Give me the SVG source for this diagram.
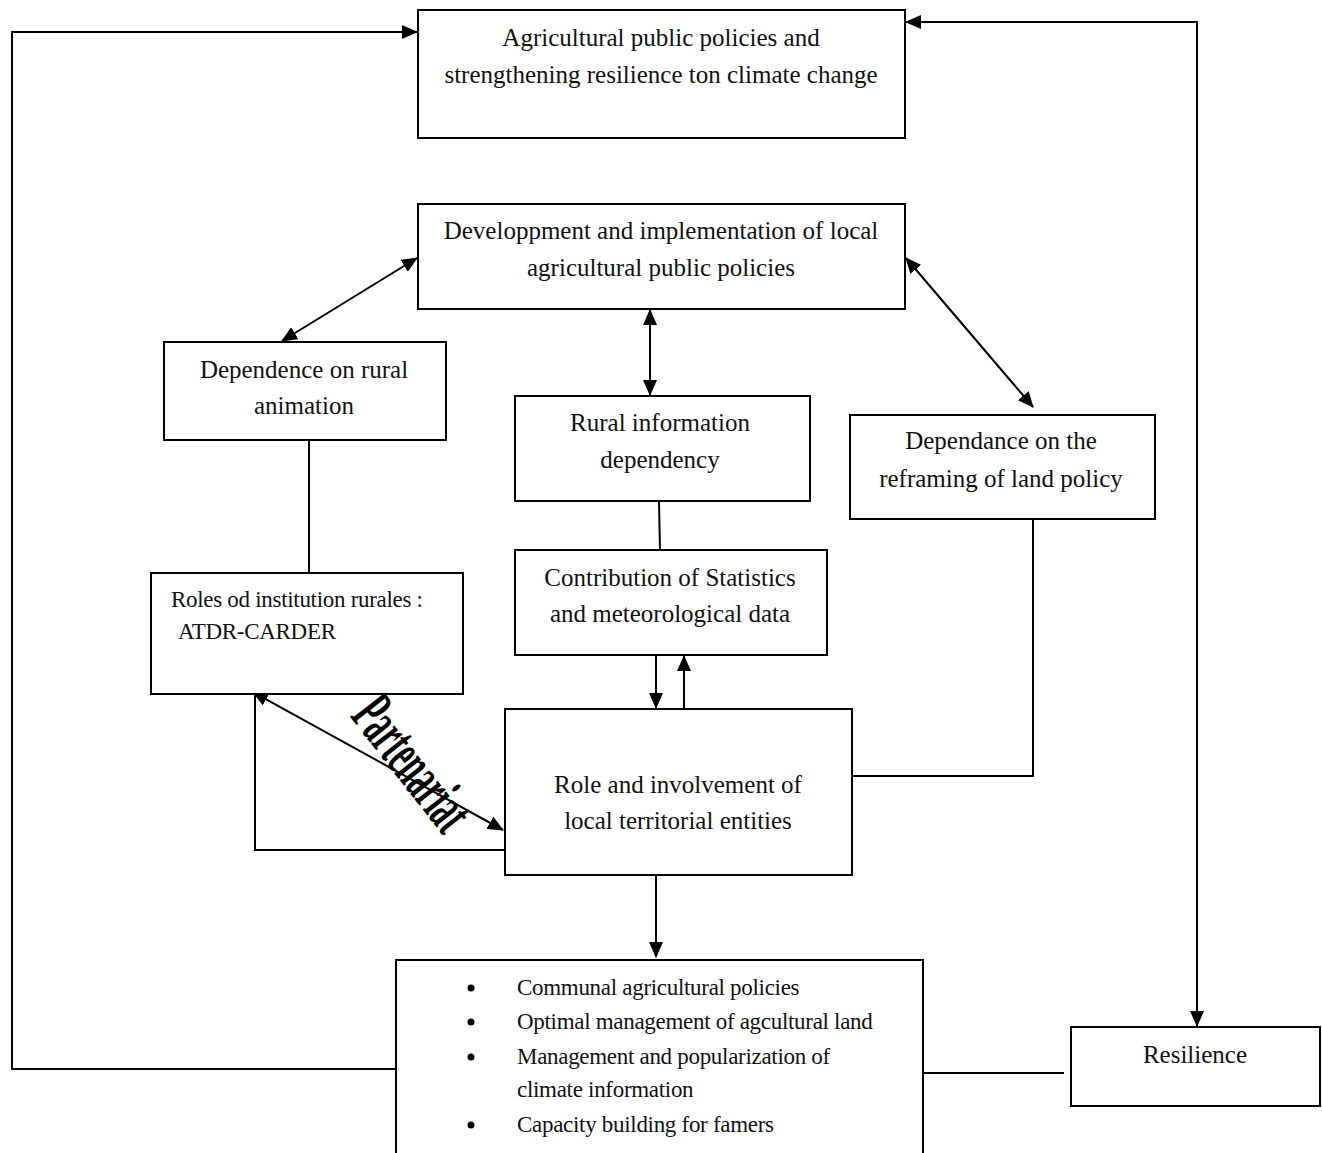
<svg xmlns="http://www.w3.org/2000/svg" width="1322" height="1153" viewBox="0 0 1322 1153">
<style>
.box{fill:#fff;stroke:#000;stroke-width:2}
.t{font-family:"Liberation Serif","Times New Roman",serif;font-size:25px;fill:#111;text-anchor:middle}
.b{font-family:"Liberation Serif","Times New Roman",serif;font-size:23px;fill:#111;letter-spacing:-0.3px}
.c{fill:none;stroke:#000;stroke-width:2}
.a{marker-end:url(#ah)}
.aa{marker-start:url(#ah);marker-end:url(#ah)}
</style>
<defs>
<marker id="ah" markerUnits="userSpaceOnUse" markerWidth="16" markerHeight="14" refX="15" refY="7" orient="auto-start-reverse">
<path d="M0,0 L16,7 L0,14 Z" fill="#000"/>
</marker>
</defs>
<g id="connectors">
<path class="c a" d="M396,1069 H12 V32 H417"/>
<path class="c aa" d="M1197,1026 V22 H906"/>
<path class="c aa" d="M282,341 L417,258"/>
<path class="c aa" d="M650,395 V310"/>
<path class="c aa" d="M906,258 L1033,407"/>
<path class="c a" d="M656,655 V708"/>
<path class="c a" d="M684,709 V656"/>
<path class="c a" d="M656,875 V957"/>
<path class="c aa" d="M253,692 L503,830"/>
<path class="c" d="M255,692 V850 H512"/>
<path class="c" d="M1033,519 V776 H849"/>
<path class="c" d="M309,440 V573"/>
<path class="c" d="M659,501 L660,550"/>
<path class="c" d="M914,1073 H1064"/>
<text transform="translate(408,767) rotate(52) scale(0.55,1.15)" font-family="Liberation Serif, serif" font-weight="bold" font-size="56" text-anchor="middle" dominant-baseline="middle" fill="#000">Partenariat</text>
</g>
<g id="policies">
<rect class="box" x="418" y="10" width="487" height="128"/>
<text class="t" x="661" y="46">Agricultural  public  policies  and</text>
<text class="t" x="661" y="83">strengthening  resilience  ton  climate  change</text>
</g>
<g id="development">
<rect class="box" x="418" y="204" width="487" height="105"/>
<text class="t" x="661" y="239">Developpment and implementation  of local</text>
<text class="t" x="661" y="276">agricultural  public policies</text>
</g>
<g id="animation">
<rect class="box" x="164" y="342" width="282" height="98"/>
<text class="t" x="304" y="378">Dependence on rural</text>
<text class="t" x="304" y="414">animation</text>
</g>
<g id="information">
<rect class="box" x="515" y="396" width="295" height="105"/>
<text class="t" x="660" y="431">Rural information</text>
<text class="t" x="660" y="468">dependency</text>
</g>
<g id="land">
<rect class="box" x="850" y="415" width="305" height="104"/>
<text class="t" x="1001" y="449">Dependance on the</text>
<text class="t" x="1001" y="487">reframing of land policy</text>
</g>
<g id="roles">
<rect class="box" x="151" y="573" width="312" height="121"/>
<text class="b" x="171" y="607" letter-spacing="0">Roles od institution rurales :</text>
<text class="b" x="178" y="639" letter-spacing="0">ATDR-CARDER</text>
</g>
<g id="statistics">
<rect class="box" x="515" y="550" width="312" height="105"/>
<text class="t" x="670" y="586">Contribution of Statistics</text>
<text class="t" x="670" y="622">and meteorological  data</text>
</g>
<g id="entities">
<rect class="box" x="505" y="709" width="347" height="166"/>
<text class="t" x="678" y="793">Role and involvement  of</text>
<text class="t" x="678" y="829">local territorial  entities</text>
</g>
<g id="outcomes">
<rect class="box" x="396" y="960" width="527" height="210"/>
<circle cx="471" cy="988" r="3.5"/>
<circle cx="471" cy="1022" r="3.5"/>
<circle cx="471" cy="1057" r="3.5"/>
<circle cx="471" cy="1125" r="3.5"/>
<text class="b" x="517" y="995">Communal agricultural policies</text>
<text class="b" x="517" y="1029">Optimal management of agcultural land</text>
<text class="b" x="517" y="1064">Management and popularization of</text>
<text class="b" x="517" y="1097">climate information</text>
<text class="b" x="517" y="1132">Capacity building for famers</text>
</g>
<g id="resilience">
<rect class="box" x="1071" y="1027" width="249" height="79"/>
<text class="t" x="1195" y="1063">Resilience</text>
</g>
</svg>
